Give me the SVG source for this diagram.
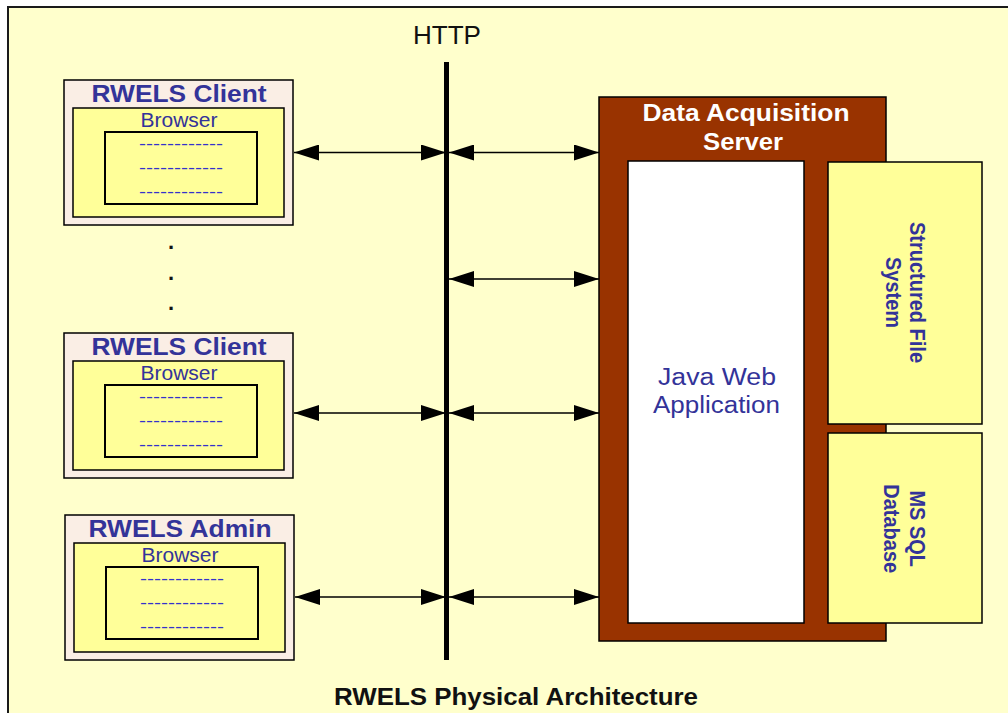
<svg xmlns="http://www.w3.org/2000/svg" width="1008" height="713" viewBox="0 0 1008 713">
<defs>
<style>
.frame{fill:#FFFFCC;stroke:#1a1a1a;stroke-width:2}
.cout{fill:#FAEEE5;stroke:#000;stroke-width:1.5}
.cbr{fill:#FFFF99;stroke:#000;stroke-width:1.5}
.cin{fill:#FFFF99;stroke:#000;stroke-width:2}
.ttl{font-family:"Liberation Sans",Arial,sans-serif;font-weight:bold;fill:#333399;text-anchor:middle}
.reg{font-family:"Liberation Sans",Arial,sans-serif;fill:#333399;text-anchor:middle}
.dash{font-family:"Liberation Sans",Arial,sans-serif;fill:#3333CC;text-anchor:middle;font-size:16px}
.blk{font-family:"Liberation Sans",Arial,sans-serif;fill:#111;text-anchor:middle}
.wht{font-family:"Liberation Sans",Arial,sans-serif;font-weight:bold;fill:#fff;text-anchor:middle;font-size:23.5px}
.conn{stroke:#000;stroke-width:1.5;fill:none;marker-start:url(#ah);marker-end:url(#ah)}
</style>
<marker id="ah" viewBox="0 0 25 16" refX="25" refY="8" markerWidth="25" markerHeight="16" markerUnits="userSpaceOnUse" orient="auto-start-reverse">
<path d="M0,0 L25,8 L0,16 z" fill="#000"/>
</marker>
<g id="clientTpl">
<rect class="cout" x="64" y="80" width="229" height="145"/>
<rect class="cbr" x="73" y="108" width="211" height="109"/>
<rect class="cin" x="105" y="132" width="152" height="72"/>
<text class="reg" x="179" y="127" font-size="19.5" textLength="77" lengthAdjust="spacingAndGlyphs">Browser</text>
<text class="dash" x="181" y="148.5" textLength="84" lengthAdjust="spacingAndGlyphs">------------</text>
<text class="dash" x="181" y="172.5" textLength="84" lengthAdjust="spacingAndGlyphs">------------</text>
<text class="dash" x="181" y="196.5" textLength="84" lengthAdjust="spacingAndGlyphs">------------</text>
</g>
</defs>
<rect x="0" y="0" width="1008" height="713" fill="#fff"/>
<rect class="frame" x="8" y="7" width="1012" height="720"/>

<text class="blk" x="447" y="44" font-size="25" textLength="68" lengthAdjust="spacingAndGlyphs">HTTP</text>
<line x1="446.5" y1="62" x2="446.5" y2="660" stroke="#000" stroke-width="5"/>

<g id="client1">
<use href="#clientTpl"/>
<text class="ttl" x="179" y="101.5" font-size="23.3" textLength="175" lengthAdjust="spacingAndGlyphs">RWELS Client</text>
</g>

<g id="dots">
<text class="blk" x="171" y="249" font-size="22" font-weight="bold">.</text>
<text class="blk" x="171" y="280" font-size="22" font-weight="bold">.</text>
<text class="blk" x="171" y="310" font-size="22" font-weight="bold">.</text>
</g>

<g id="client2">
<use href="#clientTpl" transform="translate(0,253)"/>
<text class="ttl" x="179" y="354.7" font-size="23.3" textLength="175" lengthAdjust="spacingAndGlyphs">RWELS Client</text>
</g>

<g id="admin">
<use href="#clientTpl" transform="translate(1,435)"/>
<text class="ttl" x="180" y="536.7" font-size="23.3" textLength="183" lengthAdjust="spacingAndGlyphs">RWELS Admin</text>
</g>

<g id="server">
<rect x="599" y="97" width="287" height="544" fill="#993300" stroke="#000" stroke-width="1.5"/>
<text class="wht" x="746" y="120.7" textLength="207" lengthAdjust="spacingAndGlyphs">Data Acquisition</text>
<text class="wht" x="743" y="150" textLength="80" lengthAdjust="spacingAndGlyphs">Server</text>
</g>

<g id="javaweb">
<rect x="628" y="161" width="176" height="462" fill="#fff" stroke="#000" stroke-width="1.5"/>
<text class="reg" x="717" y="385" font-size="23" textLength="118" lengthAdjust="spacingAndGlyphs">Java Web</text>
<text class="reg" x="716.5" y="413" font-size="23" textLength="127" lengthAdjust="spacingAndGlyphs">Application</text>
</g>

<g id="filesystem">
<rect x="828" y="162" width="154" height="262" fill="#FFFF99" stroke="#000" stroke-width="1.5"/>
<text class="ttl" font-size="20" transform="translate(910,292.5) scale(1.13,1) rotate(90)">Structured File</text>
<text class="ttl" font-size="20" transform="translate(886,292.5) scale(1.13,1) rotate(90)">System</text>
</g>

<g id="database">
<rect x="828" y="433" width="154" height="190" fill="#FFFF99" stroke="#000" stroke-width="1.5"/>
<text class="ttl" font-size="20" transform="translate(910,528.7) scale(1.13,1) rotate(90)">MS SQL</text>
<text class="ttl" font-size="20" transform="translate(884,528.7) scale(1.13,1) rotate(90)">Database</text>
</g>

<g id="connectors">
<line class="conn" x1="294" y1="152.5" x2="446" y2="152.5"/>
<line class="conn" x1="449" y1="152.5" x2="599" y2="152.5"/>
<line class="conn" x1="449" y1="279" x2="599" y2="279"/>
<line class="conn" x1="294" y1="413" x2="446" y2="413"/>
<line class="conn" x1="449" y1="413" x2="599" y2="413"/>
<line class="conn" x1="295" y1="597" x2="446" y2="597"/>
<line class="conn" x1="449" y1="597" x2="599" y2="597"/>
</g>

<text class="blk" x="516" y="705" font-size="23" font-weight="bold" textLength="364" lengthAdjust="spacingAndGlyphs">RWELS Physical Architecture</text>
</svg>
